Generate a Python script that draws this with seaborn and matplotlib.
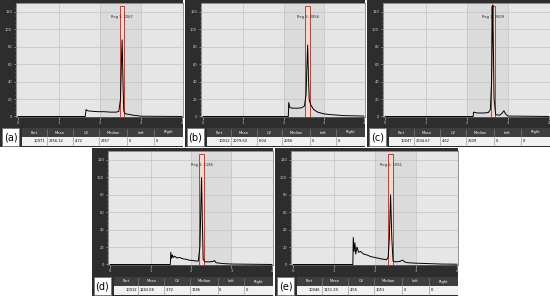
import matplotlib

matplotlib.use("Agg")
import matplotlib.pyplot as plt
import matplotlib.patches as mpatches
import pandas as pd
import seaborn as sns

sns.set_style("white")
plt.rcParams["font.family"] = ["DejaVu Sans"]

# --- data ---
letters = ["a", "b", "c", "d", "e"]

x_a = [0.0, 1.64, 1.66, 1.70, 1.80, 1.95, 2.10, 2.25, 2.40, 2.46, 2.50, 2.52, 2.54, 2.56, 2.58, 2.62, 2.70, 2.80, 2.90, 3.00, 4.0]
y_a = [0, 0, 8, 6.5, 6, 5.5, 5.5, 5, 5, 6, 20, 60, 88, 40, 6, 3, 2.5, 1.5, 1, 0.3, 0]

x_b = [0.0, 2.12, 2.13, 2.16, 2.25, 2.35, 2.45, 2.52, 2.56, 2.58, 2.60, 2.62, 2.64, 2.68, 2.75, 2.85, 3.0, 3.2, 3.5, 4.0]
y_b = [0, 0, 16, 10, 9.5, 9.5, 10, 12, 25, 55, 82, 45, 19, 13, 8, 5, 3, 2, 1, 0.5]

x_c = [0.0, 2.15, 2.16, 2.25, 2.40, 2.52, 2.57, 2.60, 2.62, 2.63, 2.64, 2.66, 2.70, 2.80, 2.86, 2.90, 2.94, 3.0, 4.0]
y_c = [0, 0, 5, 4, 4, 4.5, 8, 40, 100, 128, 90, 20, 2, 1.5, 4, 6.5, 3, 0.5, 0]

x_d = [0.0, 1.49, 1.50, 1.52, 1.54, 1.56, 1.60, 1.65, 1.72, 1.80, 1.88, 1.95, 2.05, 2.12, 2.18, 2.22, 2.24, 2.26, 2.28, 2.30, 2.35, 2.45, 2.55, 2.58, 2.62, 2.80, 3.0, 4.0]
y_d = [0, 0, 14, 7, 11, 8, 9.5, 7.5, 8, 6.5, 6, 5, 4.5, 4, 4, 20, 60, 100, 50, 6, 3, 3, 3.5, 4.5, 2, 1, 0.5, 0]

x_e = [0.0, 1.46, 1.47, 1.49, 1.51, 1.53, 1.56, 1.60, 1.65, 1.72, 1.80, 1.90, 2.00, 2.10, 2.20, 2.28, 2.32, 2.35, 2.38, 2.41, 2.44, 2.50, 2.60, 2.68, 2.72, 2.80, 3.0, 3.3, 3.6, 4.0]
y_e = [0, 0, 31, 15, 25, 12, 20, 14, 15, 12, 11, 9, 8, 7, 6, 5.5, 8, 30, 80, 30, 4, 3, 3.5, 5, 3, 2, 1.5, 1, 0.5, 0.3]

curves_x = [x_a, x_b, x_c, x_d, x_e]
curves_y = [y_a, y_b, y_c, y_d, y_e]
gate_centers = [2.54, 2.60, 2.63, 2.26, 2.38]

table_cols = ["Part", "Mean", "CV", "Median", "Left", "Right"]
parts = ["10071", "10012", "10047", "10012", "10046"]
means = ["2256.32", "2079.60", "2604.67", "1243.08", "1151.39"]
cvs = ["4.72", "6.04", "4.62", "3.72", "4.55"]
medians = ["2267", "2056", "2609", "1186", "1051"]
lefts = ["0", "0", "0", "0", "0"]
rights = ["0", "0", "0", "0", "0"]

y_ticks = [0, 20, 40, 60, 80, 100, 120]
x_ticks = [0, 1, 2, 3, 4]

# panel boxes in pixels: left, top, width, height
panels = [(0, 0, 183, 147), (185, 0, 180, 147), (367, 0, 183, 147),
          (92, 148, 181, 148), (275, 148, 183, 148)]
col_edges = [22, 47, 73, 99, 127, 154, 183]

DARK = "#2d2d2d"
HEAD = "#3e3e3e"
PLOT_BG = "#e6e6e6"
SHADE = "#dbdbdb"
GRID = "#c2c2c2"
GATE_EDGE = "#b0453c"
GATE_FILL = "#f2d8cf"

W, H = 550, 296
fig = plt.figure(figsize=(5.5, 2.96), dpi=100)
bg = fig.add_axes([0, 0, 1, 1])
bg.set_xlim(0, W)
bg.set_ylim(H, 0)
bg.axis("off")


def frac(x, y, w, h):
    return [x / W, 1 - (y + h) / H, w / W, h / H]


for i, (px, py, pw, ph) in enumerate(panels):
    # dark frame
    bg.add_patch(mpatches.Rectangle((px, py), pw, ph, color=DARK, lw=0))

    # statistics table
    sx = pw / 183.0
    edges = [px + e * sx for e in col_edges]
    ty = py + ph - 19
    bg.add_patch(mpatches.Rectangle((edges[0], ty), edges[-1] - edges[0], 9, color=HEAD, lw=0))
    bg.add_patch(mpatches.Rectangle((edges[0], ty + 9), edges[-1] - edges[0], 8.5, color="#f1f1f1", lw=0))
    vals = [parts[i], means[i], cvs[i], medians[i], lefts[i], rights[i]]
    for k in range(6):
        x0, x1 = edges[k], edges[k + 1]
        if k > 0:
            bg.plot([x0, x0], [ty + 1, ty + 17.5], color="#8a8a8a", lw=0.4)
        bg.text((x0 + x1) / 2, ty + 4.5, table_cols[k], color="white",
                fontsize=2.6, ha="center", va="center")
        if k == 0:
            bg.text(x1 - 1.5, ty + 13.3, vals[k], color="black", fontsize=2.6,
                    ha="right", va="center")
        else:
            bg.text(x0 + 1.5, ty + 13.3, vals[k], color="black", fontsize=2.6,
                    ha="left", va="center")

    # letter box
    bg.add_patch(mpatches.Rectangle((px + 2, ty), 17, 18, facecolor="white",
                                    edgecolor="#7a7a7a", lw=0.7))
    bg.text(px + 10.5, ty + 9.3, f"({letters[i]})", color="black", fontsize=7,
            ha="center", va="center")

    # histogram plot
    ax = fig.add_axes(frac(px + 16, py + 3, pw - 16, 114))
    ax.set_facecolor(PLOT_BG)
    s = (pw - 19) / 4.0
    ax.set_xlim(-2 / s, 4 + 1 / s)
    ax.set_ylim(-0.6, 130.3)
    ax.axvspan(2, 3, color=SHADE, lw=0, zorder=0)
    for gx in [1, 2, 3]:
        ax.axvline(gx, color=GRID, lw=0.5, zorder=1)
    for gy in y_ticks[1:]:
        ax.axhline(gy, color=GRID, lw=0.5, zorder=1)

    gc = gate_centers[i]
    ax.add_patch(mpatches.Rectangle((gc - 0.055, -0.3), 0.11, 127.5,
                                    facecolor=GATE_FILL, edgecolor=GATE_EDGE,
                                    lw=0.7, zorder=2))
    ax.text(gc, 114, f"Reg 1: {medians[i]}", fontsize=2.6, ha="center",
            va="center", color="#222222", zorder=4)

    df = pd.DataFrame({"x": curves_x[i], "y": curves_y[i]})
    sns.lineplot(data=df, x="x", y="y", ax=ax, color="black", linewidth=0.7,
                 estimator=None, sort=False, zorder=3)

    ax.set_xlabel("")
    ax.set_ylabel("")
    ax.set_yticks(y_ticks)
    ax.set_yticklabels([str(v) for v in y_ticks])
    ax.set_yticks(range(0, 130, 5), minor=True)
    ax.set_xticks(x_ticks)
    ax.set_xticklabels([str(v) for v in x_ticks])
    ax.set_xticks([v / 4 for v in range(0, 17)], minor=True)
    ax.tick_params(axis="both", which="major", colors="#d0d0d0", labelsize=2.6,
                   length=1.8, width=0.4, pad=1, direction="out", left=True, bottom=True)
    ax.tick_params(axis="both", which="minor", colors="#a0a0a0", length=1.0,
                   width=0.3, direction="out", left=True, bottom=True)
    for sp in ax.spines.values():
        sp.set_color("#6a6a6a")
        sp.set_linewidth(0.5)

fig.savefig("out.png", dpi=100)
